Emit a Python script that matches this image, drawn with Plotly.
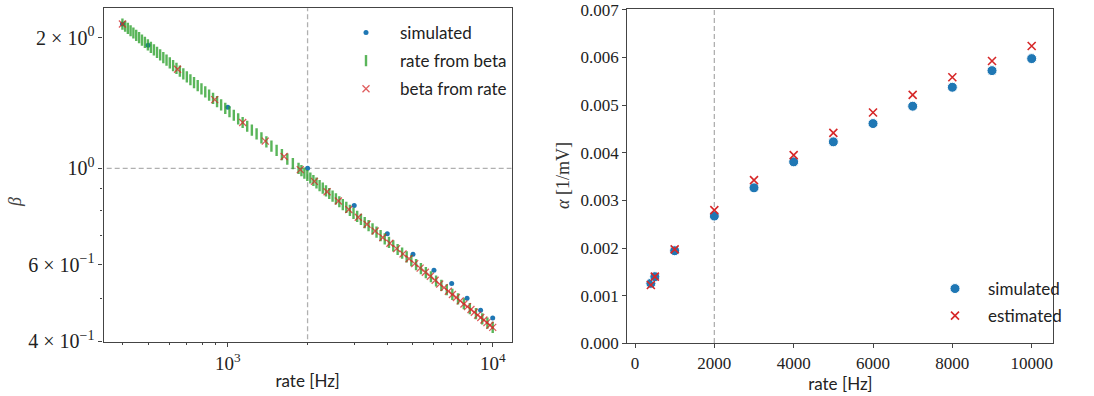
import plotly.graph_objects as go

# ---------------- data ----------------
# left panel: simulated beta vs rate
sim_rate = [400, 500, 1000, 2000, 3000, 4000, 5000, 6000, 7000, 8000, 9000, 10000]
sim_beta = [2.15, 1.92, 1.383, 1.0, 0.821, 0.707, 0.634, 0.582, 0.543, 0.502, 0.471, 0.452]

# "rate from beta" (green ticks)
rfb_beta = [2.150, 2.125, 2.100, 2.075, 2.050, 2.025, 2.000, 1.975, 1.950, 1.925,
            1.900, 1.875, 1.850, 1.825, 1.800, 1.775, 1.750, 1.725, 1.700, 1.675,
            1.650, 1.625, 1.600, 1.575, 1.550, 1.525, 1.500, 1.475, 1.450, 1.425,
            1.400, 1.375, 1.350, 1.325, 1.300, 1.275, 1.250, 1.225, 1.200, 1.175,
            1.150, 1.125, 1.100, 1.075, 1.050, 1.025, 1.000, 0.975, 0.950, 0.925,
            0.900, 0.875, 0.850, 0.825, 0.800, 0.775, 0.750, 0.725, 0.700, 0.675,
            0.650, 0.625, 0.6125, 0.600, 0.5875, 0.575, 0.5625, 0.550, 0.5375, 0.525,
            0.5125, 0.500, 0.4875, 0.475, 0.4625, 0.450, 0.440, 0.430,
            0.9875, 0.9625, 0.9375, 0.9125, 0.8875, 0.8625, 0.8375, 0.8125,
            0.7875, 0.7625, 0.7375, 0.7125, 0.6875, 0.6625, 0.6375]
rfb_rate = [400.0, 409.5, 419.3, 429.4, 440.0, 450.9, 462.3, 474.0, 486.3, 499.0,
            512.2, 525.9, 540.3, 555.2, 570.7, 586.9, 603.8, 621.4, 639.8, 659.0,
            679.2, 700.2, 722.3, 745.4, 769.6, 795.1, 821.8, 849.9, 879.4, 910.6,
            943.4, 978.0, 1014.5, 1053.2, 1094.1, 1137.4, 1183.4, 1232.2, 1284.0, 1339.3,
            1398.1, 1461.0, 1528.1, 1600.0, 1677.1, 1760.0, 1849.0, 1945.1, 2048.8, 2161.1,
            2282.7, 2415.1, 2559.2, 2716.7, 2889.1, 3078.6, 3287.1, 3517.9, 3773.5, 4058.4,
            4376.3, 4733.8, 4929.0, 5136.1, 5357.0, 5592.9, 5844.0, 6112.4, 6400.0, 6708.9,
            7040.0, 7396.0, 7780.0, 8196.1, 8644.0, 9130.9, 9551.0, 10000.0,
            1896.1, 1995.9, 2103.8, 2220.6, 2347.5, 2485.5, 2636.1, 2800.8,
            2981.5, 3180.2, 3399.5, 3642.2, 3911.9, 4212.7, 4549.6]

# "beta from rate" (red crosses)
bfr_rate = [400, 646, 892, 1138, 1385, 1631, 1877, 2123, 2369, 2615,
            2862, 3108, 3354, 3600, 3846, 4092, 4338, 4585, 4831, 5077,
            5323, 5569, 5815, 6062, 6308, 6554, 6800, 7046, 7292, 7538,
            7785, 8031, 8277, 8523, 8769, 9015, 9262, 9508, 9754, 10000]
bfr_beta = [2.150, 1.692, 1.440, 1.275, 1.155, 1.065, 0.993, 0.933, 0.883, 0.841,
            0.804, 0.771, 0.743, 0.717, 0.693, 0.672, 0.653, 0.635, 0.619, 0.603,
            0.589, 0.576, 0.564, 0.552, 0.541, 0.531, 0.521, 0.512, 0.504, 0.495,
            0.487, 0.480, 0.473, 0.466, 0.459, 0.453, 0.447, 0.441, 0.435, 0.430]

# right panel: alpha vs rate
alpha_rate = [400, 500, 1000, 2000, 3000, 4000, 5000, 6000, 7000, 8000, 9000, 10000]
alpha_sim = [0.001258, 0.001398, 0.001943, 0.002670, 0.003263, 0.003808,
             0.004228, 0.004612, 0.004976, 0.005374, 0.005723, 0.005975]
alpha_est = [0.001223, 0.001398, 0.001971, 0.002795, 0.003424, 0.003948,
             0.004416, 0.004843, 0.005213, 0.005584, 0.005926, 0.006240]

ref_rate = 2000
ref_beta = 1.0

left_xticks = [1000, 10000]
left_xticktext = ["10<sup>3</sup>", "10<sup>4</sup>"]
left_xminor = [400, 500, 600, 700, 800, 900, 2000, 3000, 4000, 5000, 6000, 7000, 8000, 9000]
left_yticks = [0.4, 0.6, 1.0, 2.0]
left_yticktext = ["4 × 10<sup>−1</sup>", "6 × 10<sup>−1</sup>", "10<sup>0</sup>", "2 × 10<sup>0</sup>"]
left_yminor = [0.5, 0.7, 0.8, 0.9]
right_xticks = [0, 2000, 4000, 6000, 8000, 10000]
right_xticktext = ["0", "2000", "4000", "6000", "8000", "10000"]
right_yticks = [0.000, 0.001, 0.002, 0.003, 0.004, 0.005, 0.006, 0.007]
right_yticktext = ["0.000", "0.001", "0.002", "0.003", "0.004", "0.005", "0.006", "0.007"]

# ---------------- styles ----------------
BLUE = "#1f77b4"
GREEN = "rgba(44,160,44,0.78)"
RED = "rgba(214,39,40,0.75)"
DASH = "#b0b0b0"
SPINE = "#444444"
SERIF = "Liberation Serif"
SANS = "Lato"

fig = go.Figure()

# dashed reference lines (left)
fig.add_trace(go.Scatter(x=[ref_rate, ref_rate], y=[0.3, 3.0], mode="lines",
                         line=dict(color=DASH, width=1.3, dash="5px,3px"),
                         showlegend=False, hoverinfo="skip", xaxis="x", yaxis="y"))
fig.add_trace(go.Scatter(x=[200, 20000], y=[ref_beta, ref_beta], mode="lines",
                         line=dict(color=DASH, width=1.3, dash="5px,3px"),
                         showlegend=False, hoverinfo="skip", xaxis="x", yaxis="y"))

fig.add_trace(go.Scatter(x=sim_rate, y=sim_beta, mode="markers", name="simulated",
                         marker=dict(color=BLUE, size=5),
                         xaxis="x", yaxis="y", legend="legend", legendgroup="a"))
fig.add_trace(go.Scatter(x=rfb_rate, y=rfb_beta, mode="markers", name="rate from beta",
                         marker=dict(symbol="line-ns", size=8, color=GREEN,
                                     line=dict(color=GREEN, width=2.4)),
                         xaxis="x", yaxis="y", legend="legend", legendgroup="b"))
fig.add_trace(go.Scatter(x=bfr_rate, y=bfr_beta, mode="markers", name="beta from rate",
                         marker=dict(symbol="x-thin", size=7, color=RED,
                                     line=dict(color=RED, width=1.3)),
                         xaxis="x", yaxis="y", legend="legend", legendgroup="c"))

# right panel
fig.add_trace(go.Scatter(x=[ref_rate, ref_rate], y=[-0.001, 0.008], mode="lines",
                         line=dict(color=DASH, width=1.3, dash="5px,3px"),
                         showlegend=False, hoverinfo="skip", xaxis="x2", yaxis="y2"))
fig.add_trace(go.Scatter(x=alpha_rate, y=alpha_sim, mode="markers", name="simulated",
                         marker=dict(color=BLUE, size=10, line=dict(color="white", width=1)),
                         xaxis="x2", yaxis="y2", legend="legend2", legendgroup="d"))
fig.add_trace(go.Scatter(x=alpha_rate, y=alpha_est, mode="markers", name="estimated",
                         marker=dict(symbol="x-thin", size=8, color="#d62728",
                                     line=dict(color="#d62728", width=1.6)),
                         xaxis="x2", yaxis="y2", legend="legend2", legendgroup="e"))

axis_common = dict(showline=True, mirror=True, linecolor=SPINE, linewidth=1.2,
                   ticks="outside", ticklen=4, tickwidth=1, tickcolor=SPINE,
                   showgrid=False, zeroline=False, automargin=False,
                   ticklabeloverflow="allow")

fig.update_layout(
    width=1094, height=396,
    margin=dict(l=0, r=0, t=0, b=0),
    paper_bgcolor="white", plot_bgcolor="white",
    xaxis=dict(domain=[103.5 / 1094, 511.7 / 1094], type="log", range=[2.5306, 4.0717],
               tickmode="array", tickvals=left_xticks, ticktext=left_xticktext,
               tickfont=dict(family=SERIF, size=19, color="#222"),
               minor=dict(tickmode="array", tickvals=left_xminor, ticks="outside",
                          ticklen=2.5, tickcolor=SPINE),
               title=dict(text="rate [Hz]", font=dict(family=SANS, size=17, color="#222"),
                          standoff=2),
               anchor="y", **axis_common),
    yaxis=dict(domain=[1 - 341.7 / 396, 1 - 8.3 / 396], type="log", range=[-0.3995, 0.3687],
               tickmode="array", tickvals=left_yticks, ticktext=left_yticktext,
               tickfont=dict(family=SERIF, size=20, color="#222"),
               minor=dict(tickmode="array", tickvals=left_yminor, ticks="outside",
                          ticklen=2.5, tickcolor=SPINE),
               anchor="x", **axis_common),
    xaxis2=dict(domain=[627.3 / 1094, 1053.3 / 1094], range=[-194, 10545],
                tickmode="array", tickvals=right_xticks, ticktext=right_xticktext,
                tickfont=dict(family=SERIF, size=17, color="#222"),
                title=dict(text="rate [Hz]", font=dict(family=SANS, size=17, color="#222"),
                           standoff=2),
                anchor="y2", **axis_common),
    yaxis2=dict(domain=[1 - 343.3 / 396, 1 - 9.3 / 396], range=[0, 0.00701],
                tickmode="array", tickvals=right_yticks, ticktext=right_yticktext,
                tickfont=dict(family=SERIF, size=17, color="#222"),
                anchor="x2", **axis_common),
    legend=dict(x=332 / 1094, y=1 - 15 / 396, xanchor="left", yanchor="top",
                bgcolor="rgba(0,0,0,0)", tracegroupgap=3, itemwidth=58,
                font=dict(family=SANS, size=17, color="#222")),
    legend2=dict(x=922 / 1094, y=1 - 271 / 396, xanchor="left", yanchor="top",
                 bgcolor="rgba(0,0,0,0)", tracegroupgap=2, itemwidth=56,
                 font=dict(family=SANS, size=17, color="#222")),
    annotations=[
        dict(text="<i>β</i>", xref="paper", yref="paper", x=15 / 1094, y=1 - 202 / 396,
             showarrow=False, textangle=-90, xanchor="center", yanchor="middle",
             font=dict(family=SERIF, size=18, color="#444")),
        dict(text="<i>α</i> [1/mV]", xref="paper", yref="paper", x=563 / 1094, y=1 - 176 / 396,
             showarrow=False, textangle=-90, xanchor="center", yanchor="middle",
             font=dict(family=SERIF, size=18, color="#333")),
    ],
)

fig.write_html("out.html",
               config={"displayModeBar": False},
               post_script="document.body.style.margin='0';document.body.style.overflow='hidden';")
